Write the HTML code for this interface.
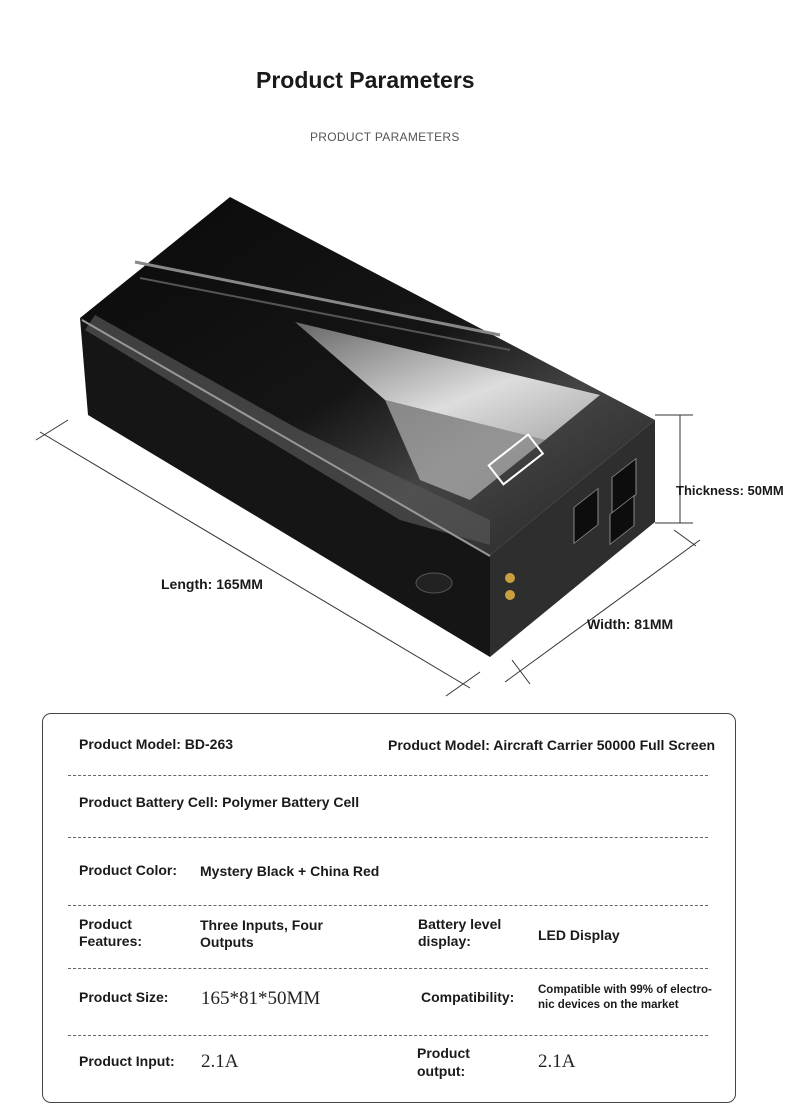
<!DOCTYPE html>
<html><head><meta charset="utf-8"><style>
body{margin:0;background:#fff;font-family:"Liberation Sans",sans-serif;}
.wrap{position:relative;width:790px;height:1112px;overflow:hidden;}
.t{position:absolute;color:#1a1a1a;white-space:nowrap;}
.b{font-weight:bold;font-size:14px;}
.s{font-family:"Liberation Serif",serif;font-size:19px;color:#222;}
.dash{position:absolute;left:68px;width:640px;border-top:1px dashed #666;}
</style></head><body><div class="wrap">
<div class="t" style="left:256px;top:67px;font-size:23px;font-weight:bold;">Product Parameters</div>
<div class="t" style="left:310px;top:130px;font-size:12px;color:#555;letter-spacing:0.3px;">PRODUCT PARAMETERS</div>

<svg width="790" height="710" style="position:absolute;left:0;top:0" viewBox="0 0 790 710">
<defs>
<linearGradient id="top" x1="0" y1="0" x2="1" y2="1">
<stop offset="0" stop-color="#0a0a0a"/><stop offset="0.5" stop-color="#151515"/><stop offset="0.7" stop-color="#444"/><stop offset="1" stop-color="#222"/></linearGradient>
<linearGradient id="shine" x1="0" y1="0" x2="1" y2="1">
<stop offset="0" stop-color="#666"/><stop offset="0.6" stop-color="#ddd"/><stop offset="1" stop-color="#aaa"/></linearGradient>
</defs>
<polygon points="80,318 490,555 490,657 88,415" fill="#151515"/>
<polygon points="490,555 655,420 655,522 490,657" fill="#2e2e2e"/>
<polygon points="80,318 230,197 655,420 490,555" fill="url(#top)"/>
<polygon points="295,322 600,395 545,440 385,400" fill="url(#shine)"/>
<polygon points="85,330 95,315 300,430 490,520 490,545 400,520" fill="#555" opacity="0.7"/>
<polygon points="385,400 545,440 470,500 420,480" fill="#ccc" opacity="0.6"/>
<line x1="135" y1="262" x2="500" y2="335" stroke="#888" stroke-width="3"/>
<line x1="140" y1="278" x2="510" y2="350" stroke="#555" stroke-width="2"/>
<line x1="82" y1="320" x2="490" y2="556" stroke="#999" stroke-width="2"/>
<g transform="rotate(-38 520 460)"><rect x="492" y="445" width="50" height="24" fill="none" stroke="#fff" stroke-width="2"/></g>
<rect x="574" y="498" width="24" height="36" fill="#0d0d0d" stroke="#888" transform="skewY(-38)" transform-origin="586 516"/>
<rect x="612" y="468" width="24" height="36" fill="#0d0d0d" stroke="#888" transform="skewY(-38)" transform-origin="624 486"/>
<rect x="610" y="505" width="24" height="30" fill="#0d0d0d" stroke="#888" transform="skewY(-38)" transform-origin="622 520"/>
<circle cx="510" cy="578" r="5" fill="#c9a040"/><circle cx="510" cy="595" r="5" fill="#c9a040"/>
<ellipse cx="434" cy="583" rx="18" ry="10" fill="#222" stroke="#555"/>
<g stroke="#333" stroke-width="1" fill="none">
<line x1="40" y1="432" x2="470" y2="688"/>
<line x1="68" y1="420" x2="36" y2="440"/>
<line x1="480" y1="672" x2="446" y2="696"/>
<line x1="505" y1="682" x2="700" y2="540"/>
<line x1="512" y1="660" x2="530" y2="684"/>
<line x1="674" y1="530" x2="696" y2="546"/>
<line x1="680" y1="415" x2="680" y2="523"/>
<line x1="655" y1="415" x2="693" y2="415"/>
<line x1="655" y1="523" x2="693" y2="523"/>
</g>
</svg>
<div class="t b" style="left:161px;top:576px;">Length: 165MM</div>
<div class="t b" style="left:676px;top:483px;font-size:13px;">Thickness: 50MM</div>
<div class="t b" style="left:587px;top:616px;">Width: 81MM</div>

<div style="position:absolute;left:42px;top:713px;width:692px;height:388px;border:1px solid #444;border-radius:9px;"></div>
<div class="dash" style="top:775px"></div>
<div class="dash" style="top:837px"></div>
<div class="dash" style="top:905px"></div>
<div class="dash" style="top:968px"></div>
<div class="dash" style="top:1035px"></div>

<div class="t b" style="left:79px;top:736px;">Product Model: BD-263</div>
<div class="t b" style="left:388px;top:737px;">Product Model: Aircraft Carrier 50000 Full Screen</div>
<div class="t b" style="left:79px;top:794px;">Product Battery Cell: Polymer Battery Cell</div>
<div class="t b" style="left:79px;top:862px;">Product Color:</div>
<div class="t b" style="left:200px;top:863px;">Mystery Black + China Red</div>
<div class="t b" style="left:79px;top:916px;line-height:17px;">Product<br>Features:</div>
<div class="t b" style="left:200px;top:917px;line-height:17px;">Three Inputs, Four<br>Outputs</div>
<div class="t b" style="left:418px;top:916px;line-height:17px;">Battery level<br>display:</div>
<div class="t b" style="left:538px;top:927px;">LED Display</div>
<div class="t b" style="left:79px;top:989px;">Product Size:</div>
<div class="t s" style="left:201px;top:988px;">165*81*50MM</div>
<div class="t b" style="left:421px;top:989px;">Compatibility:</div>
<div class="t b" style="left:538px;top:983px;font-size:11.5px;line-height:15px;">Compatible with 99% of electro-<br>nic devices on the market</div>
<div class="t b" style="left:79px;top:1053px;">Product Input:</div>
<div class="t s" style="left:201px;top:1051px;">2.1A</div>
<div class="t b" style="left:417px;top:1044px;line-height:18px;">Product<br>output:</div>
<div class="t s" style="left:538px;top:1051px;">2.1A</div>
</div></body></html>
